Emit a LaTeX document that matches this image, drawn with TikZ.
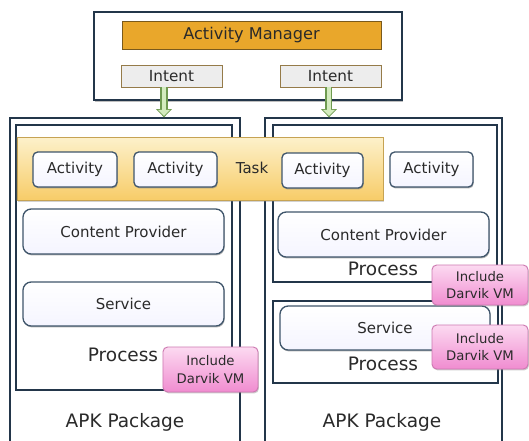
\documentclass[tikz,border=0pt]{standalone}
\usepackage{fontspec}
\setmainfont{DejaVu Sans}
\usepackage{tikz}
\usetikzlibrary{arrows.meta, positioning, shadows}
\definecolor{navy}{HTML}{23364A}
\definecolor{mgrfill}{HTML}{E9A72B}
\definecolor{mgrdraw}{HTML}{7A5A1C}
\definecolor{actdraw}{HTML}{3F556B}
\definecolor{txt}{HTML}{2A2A2A}
\definecolor{tasktop}{HTML}{FDF1CB}
\definecolor{taskbot}{HTML}{F7CC68}
\definecolor{pinktop}{HTML}{FCDAF1}
\definecolor{pinkbot}{HTML}{F08CD0}
\definecolor{pinkdraw}{HTML}{CC78B0}
\definecolor{grnfill}{HTML}{D3EBBE}
\definecolor{grndraw}{HTML}{6E9A50}
\tikzset{
  frame/.style = {draw=navy, line width=1.1pt},
  pkg/.style   = {frame, fill=white},
  proc/.style  = {frame},
  mgr/.style   = {draw=mgrdraw, fill=mgrfill, line width=0.8pt, text=txt,
                  font=\fontsize{13.8}{16}\selectfont},
  intent/.style= {draw=mgrdraw!80, fill=black!7, line width=0.8pt, text=txt,
                  font=\fontsize{13}{15}\selectfont},
  act/.style   = {draw=actdraw, line width=1.1pt, rounded corners=4pt,
                  top color=white, bottom color=blue!4, text=txt,
                  font=\fontsize{12.8}{15}\selectfont,
                  drop shadow={shadow xshift=0.6pt, shadow yshift=-1.2pt, opacity=0.6}},
  comp/.style  = {act, rounded corners=7pt},
  task/.style  = {draw=taskbot!80!black, line width=0.4pt,
                  top color=tasktop, bottom color=taskbot,
                  drop shadow={shadow xshift=1pt, shadow yshift=-1.5pt, opacity=0.35}},
  vm/.style    = {draw=pinkdraw, line width=0.8pt, rounded corners=4pt,
                  top color=pinktop, bottom color=pinkbot, align=center, text=txt,
                  font=\fontsize{11.3}{15}\selectfont,
                  drop shadow={shadow xshift=0.8pt, shadow yshift=-1.2pt, opacity=0.4}},
  lbl/.style   = {text=txt, font=\fontsize{15.8}{18}\selectfont},
  flow/.style  = {draw=grndraw, line width=6pt,
                  -{Triangle[width=13pt,length=7pt]}},
  flow in/.style = {draw=grnfill, line width=4pt, shorten >=1.2pt,
                  -{Triangle[width=10pt,length=5.2pt]}},
}

\begin{document}
\begin{tikzpicture}[x=0.03cm, y=-0.03cm, inner sep=0pt]
  \useasboundingbox (0,0) rectangle (529,440);

  % activity manager
  \node[frame, fill=white, minimum width=9.24cm, minimum height=2.64cm,
        drop shadow={shadow xshift=1.2pt, shadow yshift=-1.5pt, opacity=0.5}]
        (am) at (248,56) {};
  \node[mgr, minimum width=7.77cm, minimum height=0.84cm] (mgr) at (251.5,35) {Activity Manager};
  \node[intent, minimum width=3.03cm, minimum height=0.66cm] (intentL) at (171.5,76) {Intent};
  \node[intent, minimum width=3.03cm, minimum height=0.66cm] (intentR) at (330.5,76) {Intent};

  % packages and processes
  \node[pkg, minimum width=6.9cm,  minimum height=9.96cm] (apkL) at (125,284) {};
  \node[pkg, minimum width=7.11cm, minimum height=9.96cm] (apkR) at (383.5,284) {};
  \node[proc, minimum width=6.48cm, minimum height=7.95cm] (procL)  at (124,257.5) {};
  \node[proc, minimum width=6.72cm, minimum height=4.71cm] (procR1) at (385,203.5) {};
  \node[proc, minimum width=6.75cm, minimum height=2.46cm] (procR2) at (385.5,342) {};

  % task
  \node[task, minimum width=10.98cm, minimum height=1.89cm] (task) at (200,168.5) {};
  \node[act, minimum width=2.52cm, minimum height=1.05cm] (act1) at (75,169.5)    {Activity};
  \node[act, minimum width=2.49cm, minimum height=1.05cm] (act2) at (175.5,169.5) {Activity};
  \node[lbl, font=\fontsize{12.8}{15}\selectfont] (tasklbl) at (252,168) {Task};
  \node[act, minimum width=2.43cm, minimum height=1.05cm] (act3) at (322.5,170.5) {Activity};
  \node[act, minimum width=2.49cm, minimum height=1.05cm] (act4) at (431.5,169.5) {Activity};

  % components
  \node[comp, minimum width=6.03cm, minimum height=1.35cm] (cpL)  at (123.5,231.5) {Content Provider};
  \node[comp, minimum width=6.03cm, minimum height=1.32cm] (svL)  at (123.5,304)   {Service};
  \node[comp, minimum width=6.33cm, minimum height=1.35cm] (cpR)  at (383.5,234.5) {Content Provider};
  \node[comp, minimum width=6.3cm,  minimum height=1.32cm] (svR)  at (385,328)     {Service};

  \node[lbl] (pL)  at (123,355) {Process};
  \node[lbl] (pR1) at (383,269) {Process};
  \node[lbl] (pR2) at (383,364) {Process};
  \node[lbl] (kL)  at (125,422) {APK Package};
  \node[lbl] (kR)  at (382,422) {APK Package};

  \node[vm, minimum width=2.85cm, minimum height=1.35cm] (vmL)  at (210.5,369.5) {Include\\Darvik VM};
  \node[vm, minimum width=2.88cm, minimum height=1.2cm]  (vmR1) at (480,285)     {Include\\Darvik VM};
  \node[vm, minimum width=2.88cm, minimum height=1.32cm] (vmR2) at (480,347)     {Include\\Darvik VM};

  % intents into packages
  \draw[flow]    ([xshift=-6.4pt]intentL.south) -- ([xshift=-6.4pt]intentL.south |- apkL.north);
  \draw[flow in] ([xshift=-6.4pt]intentL.south) -- ([xshift=-6.4pt]intentL.south |- apkL.north);
  \draw[flow]    ([xshift=-1.3pt]intentR.south) -- ([xshift=-1.3pt]intentR.south |- apkR.north);
  \draw[flow in] ([xshift=-1.3pt]intentR.south) -- ([xshift=-1.3pt]intentR.south |- apkR.north);
\end{tikzpicture}
\end{document}
